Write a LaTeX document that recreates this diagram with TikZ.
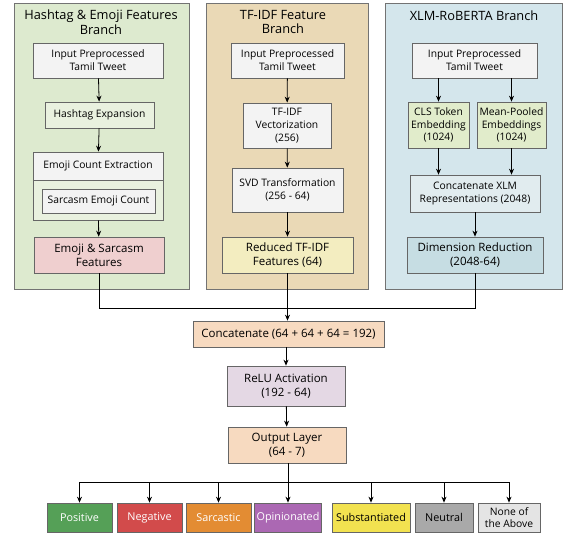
\documentclass[tikz,border=0pt]{standalone}
\usepackage{fontspec}
\setmainfont{Open Sans}
\usepackage{tikz}
\usetikzlibrary{arrows.meta}
\usetikzlibrary{positioning}
\definecolor{pangreen}{HTML}{DDEACF}
\definecolor{pantan}{HTML}{EAD9B6}
\definecolor{panblue}{HTML}{D4E6EC}
\definecolor{boxwhite}{HTML}{F3F3F3}
\definecolor{boxlgreen}{HTML}{E9F1DF}
\definecolor{boxpink}{HTML}{EFCFCF}
\definecolor{boxyellow}{HTML}{F3EDC0}
\definecolor{boxorange}{HTML}{F7DAC0}
\definecolor{boxlilac}{HTML}{E4D8E4}
\definecolor{boxmint}{HTML}{E1ECCB}
\definecolor{boxpale}{HTML}{E1ECEF}
\definecolor{boxteal}{HTML}{C6DDE3}
\definecolor{clspos}{HTML}{55A057}
\definecolor{clsneg}{HTML}{D24B4B}
\definecolor{clssar}{HTML}{E38C33}
\definecolor{clsopi}{HTML}{AB68B3}
\definecolor{clssub}{HTML}{F2E250}
\definecolor{clsneu}{HTML}{A9A9A9}
\definecolor{clsnone}{HTML}{E4E4E4}

\begin{document}
\begin{tikzpicture}[x=1pt,y=-1pt,
  panel/.style={draw=black!55,line width=0.7pt,inner sep=0pt},
  title/.style={align=center,font=\fontsize{12.8}{14.5}\selectfont,inner sep=0pt},
  box/.style={draw=black!60,line width=0.7pt,fill=boxwhite,align=center,inner sep=1pt,font=\fontsize{10.3}{12.8}\selectfont},
  big/.style={font=\fontsize{11.5}{14}\selectfont},
  cls/.style={box,minimum height=29pt,text=white,font=\fontsize{10.8}{11.5}\selectfont},
  arr/.style={-{Stealth[length=6pt,width=5pt]},line width=0.8pt}]
  \useasboundingbox (0,0) rectangle (564,536);
  \fill[white] (0,0) rectangle (564,536);
  % branch panels
  \node (panA) at (101.5,146)[panel,fill=pangreen,minimum width=175pt,minimum height=286pt]{};
  \node (panB) at (287,146)[panel,fill=pantan,minimum width=162pt,minimum height=286pt]{};
  \node (panC) at (473.5,146)[panel,fill=panblue,minimum width=177pt,minimum height=286pt]{};
  \node (titA) at (101,22)[title]{Hashtag \& Emoji Features\\Branch};
  \node (titB) at (283,22)[title]{TF-IDF Feature\\Branch};
  \node (titC) at (474,16)[title]{XLM-RoBERTA Branch};

  % hashtag & emoji branch
  \node (inA) at (98,60.5)[box,minimum width=130pt,minimum height=35pt]{Input Preprocessed\\Tamil Tweet};
  \node (hashA) at (99.5,115)[box,fill=boxlgreen,minimum width=109pt,minimum height=26pt]{Hashtag Expansion};
  \node (emoA) at (98,186)[box,fill=boxlgreen,minimum width=130pt,minimum height=68pt]{};
  \node (emoheadA) at (98,166)[box,minimum width=130pt,minimum height=28pt]{Emoji Count Extraction};
  \node (sarcA) at (98.5,201)[box,minimum width=113pt,minimum height=24pt]{Sarcasm Emoji Count};
  \node (featA) at (99,255)[box,big,fill=boxpink,minimum width=130pt,minimum height=36pt]{Emoji \& Sarcasm\\Features};

  % tf-idf branch
  \node (inB) at (287.5,60.5)[box,minimum width=113pt,minimum height=35pt]{Input Preprocessed\\Tamil Tweet};
  \node (tfB) at (287,125.5)[box,minimum width=88pt,minimum height=45pt]{TF-IDF\\Vectorization\\(256)};
  \node (svdB) at (287.5,190)[box,minimum width=111pt,minimum height=44pt]{SVD Transformation\\(256 - 64)};
  \node (featB) at (287.5,255)[box,big,fill=boxyellow,minimum width=131pt,minimum height=36pt]{Reduced TF-IDF\\Features (64)};

  % xlm-roberta branch
  \node (inC) at (474.5,60.5)[box,minimum width=125pt,minimum height=35pt]{Input Preprocessed\\Tamil Tweet};
  \node (clsC) at (438.5,125)[box,fill=boxmint,minimum width=61pt,minimum height=46pt]{CLS Token\\Embedding\\(1024)};
  \node (meanC) at (511.5,125)[box,fill=boxmint,minimum width=69pt,minimum height=46pt]{Mean-Pooled\\Embeddings\\(1024)};
  \node (catC) at (475,193.5)[box,fill=boxpale,minimum width=130pt,minimum height=37pt]{Concatenate XLM\\Representations (2048)};
  \node (dimC) at (475,255)[box,big,fill=boxteal,minimum width=136pt,minimum height=36pt]{Dimension Reduction\\(2048-64)};

  % fusion head
  \node (cat) at (288.5,334)[box,big,fill=boxorange,minimum width=191pt,minimum height=26pt]{Concatenate (64 + 64 + 64 = 192)};
  \node (relu) at (286,386)[box,big,fill=boxlilac,minimum width=118pt,minimum height=40pt]{ReLU Activation\\(192 - 64)};
  \node (outl) at (287,445)[box,big,fill=boxorange,minimum width=118pt,minimum height=36pt]{Output Layer\\(64 - 7)};

  % classes
  \node (pos) at (79.5,517.5)[cls,fill=clspos,minimum width=65pt]{Positive};
  \node (neg) at (149.5,517.5)[cls,fill=clsneg,minimum width=65pt]{Negative};
  \node (sar) at (218.5,517.5)[cls,fill=clssar,minimum width=65pt]{Sarcastic};
  \node (opi) at (288,517.5)[cls,fill=clsopi,minimum width=67pt]{Opinionated};
  \node (sub) at (371,517.5)[cls,fill=clssub,minimum width=78pt,text=black]{Substantiated};
  \node (neu) at (444,517.5)[cls,fill=clsneu,minimum width=58pt,text=black]{Neutral};
  \node (none) at (509,517.5)[cls,fill=clsnone,minimum width=62pt,text=black,font=\fontsize{10.3}{11.5}\selectfont]{None of\\the Above};

  \coordinate (join) at (288,308);
  \coordinate (split) at (288,482);

  \draw[arr](inA)--(hashA);
  \draw[arr](hashA)--(emoheadA);
  \draw[arr](emoA)--(featA);
  \draw[arr](inB)--(tfB);
  \draw[arr](tfB)--(svdB);
  \draw[arr](svdB)--(featB);
  \draw[arr](inC.south -| clsC.north)--(clsC.north);
  \draw[arr](inC.south -| meanC.north)--(meanC.north);
  \draw[arr](clsC.south)--(catC.north -| clsC.south);
  \draw[arr](meanC.south)--(catC.north -| meanC.south);
  \draw[arr](catC)--(dimC);
  \draw[line width=0.8pt](featA.south) |- (join);
  \draw[line width=0.8pt](dimC.south) |- (join);
  \draw[arr](featB.south)--(cat.north -| featB.south);
  \draw[arr](cat.south -| relu.north)--(relu.north);
  \draw[arr](relu)--(outl);
  \draw[line width=0.8pt](outl.south -| split)--(split);
  \foreach \c in {pos,neg,sar,opi,sub,neu,none}
    \draw[arr](split) -| (\c.north);
\end{tikzpicture}
\end{document}
